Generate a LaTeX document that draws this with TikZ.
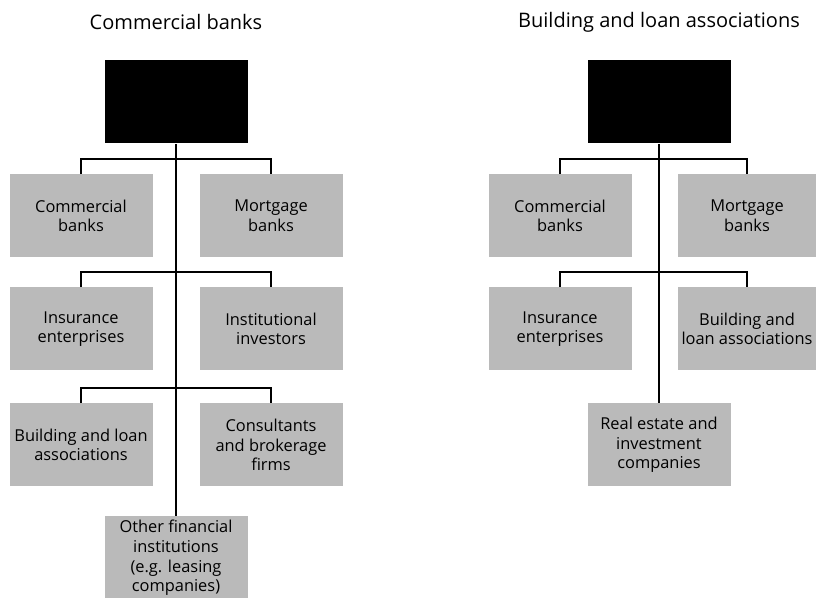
\documentclass[tikz,border=0pt]{standalone}
\usepackage{fontspec}
\setmainfont{Open Sans}
\usetikzlibrary{positioning}

\begin{document}
\begin{tikzpicture}[x=0.5pt, y=-0.5pt,
    head/.style={fill=black, minimum width=71.5pt, minimum height=41.5pt, inner sep=0pt},
    inst/.style={fill=black!27, minimum width=71.5pt, minimum height=41.5pt, inner sep=1pt,
        align=center, font=\fontsize{8.2}{9.8}\selectfont},
    title/.style={font=\fontsize{10}{12}\selectfont},
    link/.style={line width=0.9pt}]
    \useasboundingbox (0,0) rectangle (816,598);

    % left tree
    \node [title] (lt) at (176,22) {Commercial banks};
    \node [head] (lh) at (176,102) {};
    \node [inst] (l1) at (81,216) {Commercial\\banks};
    \node [inst] (l2) at (271,216) {Mortgage\\banks};
    \node [inst] (l3) at (81,329) {Insurance\\enterprises};
    \node [inst] (l4) at (271,329) {Institutional\\investors};
    \node [inst] (l5) at (81,445) {Building and loan\\associations};
    \node [inst] (l6) at (271,445) {Consultants\\and brokerage\\firms};
    \node [inst] (l7) at (176,558) {Other financial\\institutions\\(e.g. leasing\\companies)};
    \draw [link] (lh.south) -- (l7.north);
    \draw [link] (l1.north) -- ++(0,-15) -| (l2.north);
    \draw [link] (l3.north) -- ++(0,-15) -| (l4.north);
    \draw [link] (l5.north) -- ++(0,-15) -| (l6.north);

    % right tree
    \node [title] (rt) at (659,22) {Building and loan associations};
    \node [head] (rh) at (659,102) {};
    \node [inst] (r1) at (560,216) {Commercial\\banks};
    \node [inst, minimum width=69pt] (r2) at (747,216) {Mortgage\\banks};
    \node [inst] (r3) at (560,329) {Insurance\\enterprises};
    \node [inst, minimum width=69pt] (r4) at (747,329) {Building and\\loan associations};
    \node [inst] (r5) at (659,445) {Real estate and\\investment\\companies};
    \draw [link] (rh.south) -- (r5.north);
    \draw [link] (r1.north) -- ++(0,-15) -| (r2.north);
    \draw [link] (r3.north) -- ++(0,-15) -| (r4.north);
\end{tikzpicture}
\end{document}
